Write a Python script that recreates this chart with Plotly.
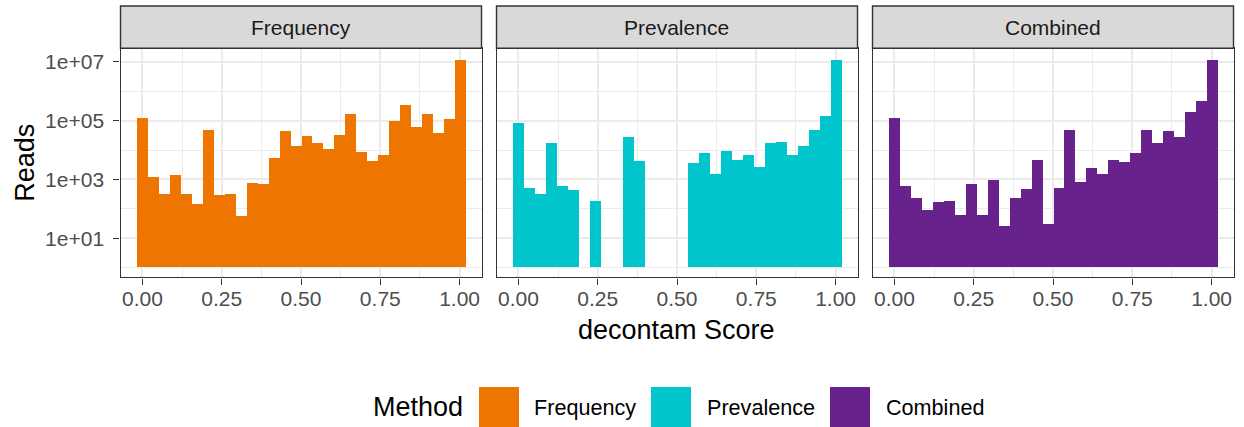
import plotly.graph_objects as go

# ---------------- data ----------------
methods = ["Frequency", "Prevalence", "Combined"]
colors = ["#EE7600", "#00C5CD", "#68228B"]
n_bins = 30
bin_width = 1 / 29
bin_centers = [i / 29 for i in range(n_bins)]

frequency_reads = [119000, 1180, 304, 1380, 304, 139, 45400, 282, 302, 56,
                   738, 700, 5080, 43100, 13700, 28400, 16800, 10500, 32300, 158000,
                   8340, 4020, 6760, 91600, 329000, 60400, 163000, 35900, 110000, 11100000]
prevalence_reads = [78300, 499, 312, 16800, 569, 416, None, 180, None, None,
                    26200, 4230, None, None, None, None, 3520, 7710, 1530, 8770,
                    4460, 6410, 2510, 16800, 17700, 6410, 13700, 45400, 143000, 11400000]
combined_reads = [119000, 583, 234, 85, 163, 180, 59, 700, 59, 957,
                  24, 224, 450, 4460, 30, 499, 45400, 776, 2320, 1530,
                  4460, 3720, 7710, 46600, 16800, 42000, 26200, 190000, 438000, 11100000]

x_tickvals = [0, 0.25, 0.5, 0.75, 1.0]
x_ticktext = ["0.00", "0.25", "0.50", "0.75", "1.00"]
y_tickvals = [1e1, 1e3, 1e5, 1e7]
y_ticktext = ["1e+01", "1e+03", "1e+05", "1e+07"]

series = [frequency_reads, prevalence_reads, combined_reads]

# ---------------- layout geometry (pixels) ----------------
W, H = 1244, 427
FONT = "Liberation Sans, Arial, Helvetica, sans-serif"
panels_px = [(120.5, 481.5), (496.5, 857.5), (872.5, 1233.5)]
panel_top, panel_bottom = 48.3, 277.3
strip_top = 6.0

def px_x(p):
    return p / W

def px_y(p):
    return 1 - p / H

fig = go.Figure()

for i, (name, col, vals) in enumerate(zip(methods, colors, series)):
    suffix = "" if i == 0 else str(i + 1)
    fig.add_trace(go.Bar(
        x=bin_centers, y=vals, base=1, width=bin_width,
        marker=dict(color=col, line=dict(width=0)),
        name=name, showlegend=False,
        xaxis="x" + suffix, yaxis="y" + suffix,
    ))

grid_major = "#EBEBEB"
border = "#333333"
tick_font = dict(family=FONT, size=21, color="#4D4D4D")

layout = dict(
    width=W, height=H,
    margin=dict(l=0, r=0, t=0, b=0),
    paper_bgcolor="white", plot_bgcolor="white",
    bargap=0,
    font=dict(family=FONT),
    shapes=[], annotations=[],
)

for i, (x0, x1) in enumerate(panels_px):
    suffix = "" if i == 0 else str(i + 1)
    layout["xaxis" + suffix] = dict(
        domain=[px_x(x0), px_x(x1)],
        anchor="y" + suffix,
        range=[-0.069, 1.069],
        tickvals=x_tickvals, ticktext=x_ticktext,
        ticks="outside", ticklen=6, tickwidth=1.4, tickcolor=border,
        tickfont=tick_font, ticklabelstandoff=-4,
        showgrid=True, gridcolor=grid_major, gridwidth=1.6,
        minor=dict(tickvals=[0.125, 0.375, 0.625, 0.875], showgrid=True,
                   gridcolor=grid_major, gridwidth=0.8, ticks=""),
        showline=True, linecolor=border, linewidth=1.4, mirror=True,
        zeroline=False, fixedrange=True,
    )
    layout["yaxis" + suffix] = dict(
        domain=[px_y(panel_bottom), px_y(panel_top)],
        anchor="x" + suffix,
        type="log", range=[-0.325, 7.455],
        tickvals=y_tickvals, ticktext=y_ticktext,
        ticks="outside" if i == 0 else "", ticklen=6, tickwidth=1.4, tickcolor=border,
        showticklabels=(i == 0),
        tickfont=tick_font, ticklabelstandoff=5,
        showgrid=True, gridcolor=grid_major, gridwidth=1.6,
        minor=dict(tickvals=[1, 1e2, 1e4, 1e6], showgrid=True,
                   gridcolor=grid_major, gridwidth=0.8, ticks=""),
        showline=True, linecolor=border, linewidth=1.4, mirror=True,
        zeroline=False, fixedrange=True,
    )
    # strip
    layout["shapes"].append(dict(
        type="rect", xref="paper", yref="paper",
        x0=px_x(x0), x1=px_x(x1), y0=px_y(panel_top), y1=px_y(strip_top),
        fillcolor="#D9D9D9", line=dict(color=border, width=1.4), layer="above",
    ))
    layout["annotations"].append(dict(
        xref="paper", yref="paper", x=px_x((x0 + x1) / 2), y=px_y((strip_top + panel_top) / 2),
        text=methods[i], showarrow=False, xanchor="center", yanchor="middle",
        font=dict(family=FONT, size=21, color="#1A1A1A"),
    ))

# axis titles
layout["annotations"].append(dict(
    xref="paper", yref="paper", x=px_x((panels_px[0][0] + panels_px[2][1]) / 2), y=px_y(330),
    text="decontam Score", showarrow=False, xanchor="center", yanchor="middle",
    font=dict(family=FONT, size=27, color="black"),
))
layout["annotations"].append(dict(
    xref="paper", yref="paper", x=px_x(25), y=px_y((panel_top + panel_bottom) / 2),
    text="Reads", showarrow=False, xanchor="center", yanchor="middle", textangle=-90,
    font=dict(family=FONT, size=27, color="black"),
))

# legend (drawn manually to match large ggplot keys)
legend_cy = 407
layout["annotations"].append(dict(
    xref="paper", yref="paper", x=px_x(371), y=px_y(legend_cy),
    text="Method", showarrow=False, xanchor="left", yanchor="middle",
    font=dict(family=FONT, size=27, color="black"),
))
key_left = [479, 651, 830]
label_left = [532, 705, 884]
for k in range(3):
    layout["shapes"].append(dict(
        type="rect", xref="paper", yref="paper",
        x0=px_x(key_left[k]), x1=px_x(key_left[k] + 40),
        y0=px_y(427), y1=px_y(387),
        fillcolor=colors[k], line=dict(width=0),
    ))
    layout["annotations"].append(dict(
        xref="paper", yref="paper", x=px_x(label_left[k]), y=px_y(legend_cy),
        text=methods[k], showarrow=False, xanchor="left", yanchor="middle",
        font=dict(family=FONT, size=21.6, color="black"),
    ))

fig.update_layout(**layout)
fig.write_html("out.html",
               config={"displayModeBar": False},
               post_script="document.body.style.margin='0px';document.body.style.overflow='hidden';")
